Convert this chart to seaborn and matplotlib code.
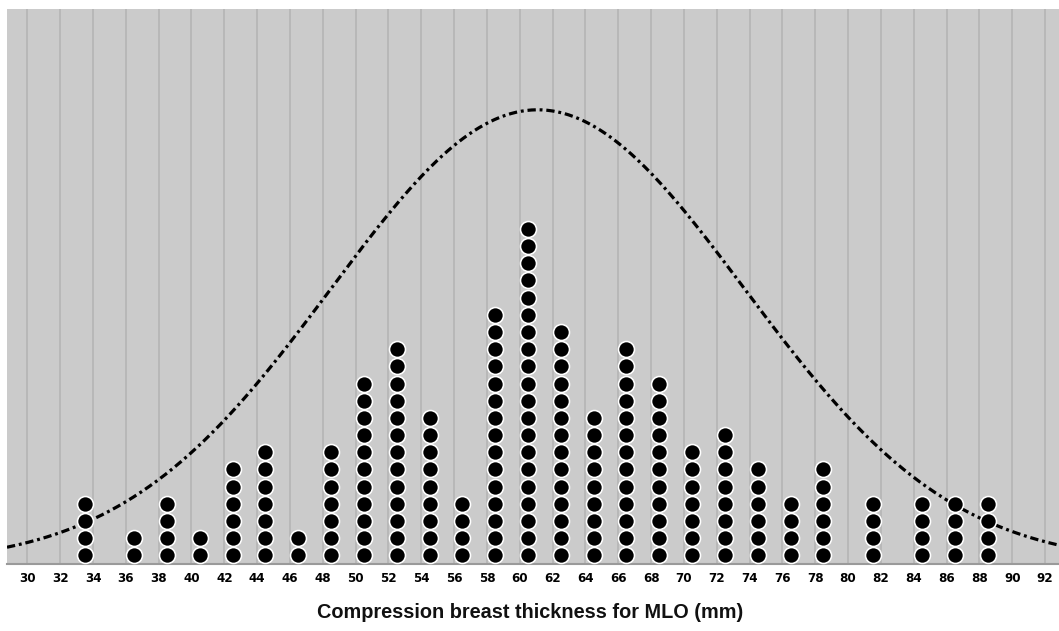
import numpy as np
import pandas as pd
import matplotlib
matplotlib.use("Agg")
import matplotlib.pyplot as plt
import seaborn as sns

# ---- data ----
bin_centers = [33.5, 36.5, 38.5, 40.5, 42.5, 44.5, 46.5, 48.5, 50.5, 52.5,
               54.5, 56.5, 58.5, 60.5, 62.5, 64.5, 66.5, 68.5, 70.5, 72.5,
               74.5, 76.5, 78.5, 81.5, 84.5, 86.5, 88.5]
counts = [4, 2, 4, 2, 6, 7, 2, 7, 11, 13,
          9, 4, 15, 20, 14, 9, 13, 11, 7, 8,
          6, 4, 6, 4, 4, 4, 4]
tick_values = list(range(30, 93, 2))
x_label = "Compression breast thickness for MLO (mm)"

# ---- build the stacked dots ----
xs = np.repeat(bin_centers, counts)
ys = np.concatenate([np.arange(c) + 0.5 for c in counts])
dots = pd.DataFrame({"x": xs, "y": ys})

# normal curve from the data
mean = xs.mean()
sd = xs.std(ddof=1)
curve_bin_width = 4.17
grid_x = np.linspace(28.76, 92.85, 400)
pdf = np.exp(-0.5 * ((grid_x - mean) / sd) ** 2) / (sd * np.sqrt(2 * np.pi))
curve = pd.DataFrame({"x": grid_x, "y": pdf * len(xs) * curve_bin_width})

sns.set_theme(style="white")
plt.rcParams["font.family"] = ["Liberation Sans", "DejaVu Sans"]

W, H = 1059, 631
fig = plt.figure(figsize=(W / 100, H / 100), dpi=100)
ax = fig.add_axes([7 / W, 1 - 564 / H, 1 - 7 / W, (564 - 9) / H])
ax.set_facecolor("#cbcbcb")

for t in tick_values:
    ax.axvline(t, color="#b6b6b6", lw=1.3, zorder=0)

sns.lineplot(data=curve, x="x", y="y", ax=ax, color="black", lw=2.3,
             linestyle=(0, (2.6, 1.2, 0.9, 1.2)), zorder=2)
sns.scatterplot(data=dots, x="x", y="y", ax=ax, s=132, color="black",
                edgecolor="white", linewidth=1.15, zorder=3)

ax.set_xlim(28.76, 92.85)
ax.set_ylim(0, 32.3)
ax.set_xticks(tick_values)
ax.set_xticklabels([str(t) for t in tick_values],
                   fontsize=9.5, fontweight="bold", fontstretch="condensed",
                   family=["DejaVu Sans"])
ax.tick_params(axis="x", length=0, pad=6, colors="black")
ax.set_yticks([])
ax.set_ylabel("")
ax.set_xlabel(x_label, fontsize=14.3, fontweight="bold", color="#111111")
ax.xaxis.label.set_va("center")
ax.xaxis.set_label_coords((530 - 7) / (W - 7), (564 - 613) / 555)

for side in ["top", "right", "left"]:
    ax.spines[side].set_visible(False)
ax.spines["bottom"].set_color("#9a9a9a")
ax.spines["bottom"].set_linewidth(1.5)

fig.savefig("out.png", dpi=100, facecolor="white")
